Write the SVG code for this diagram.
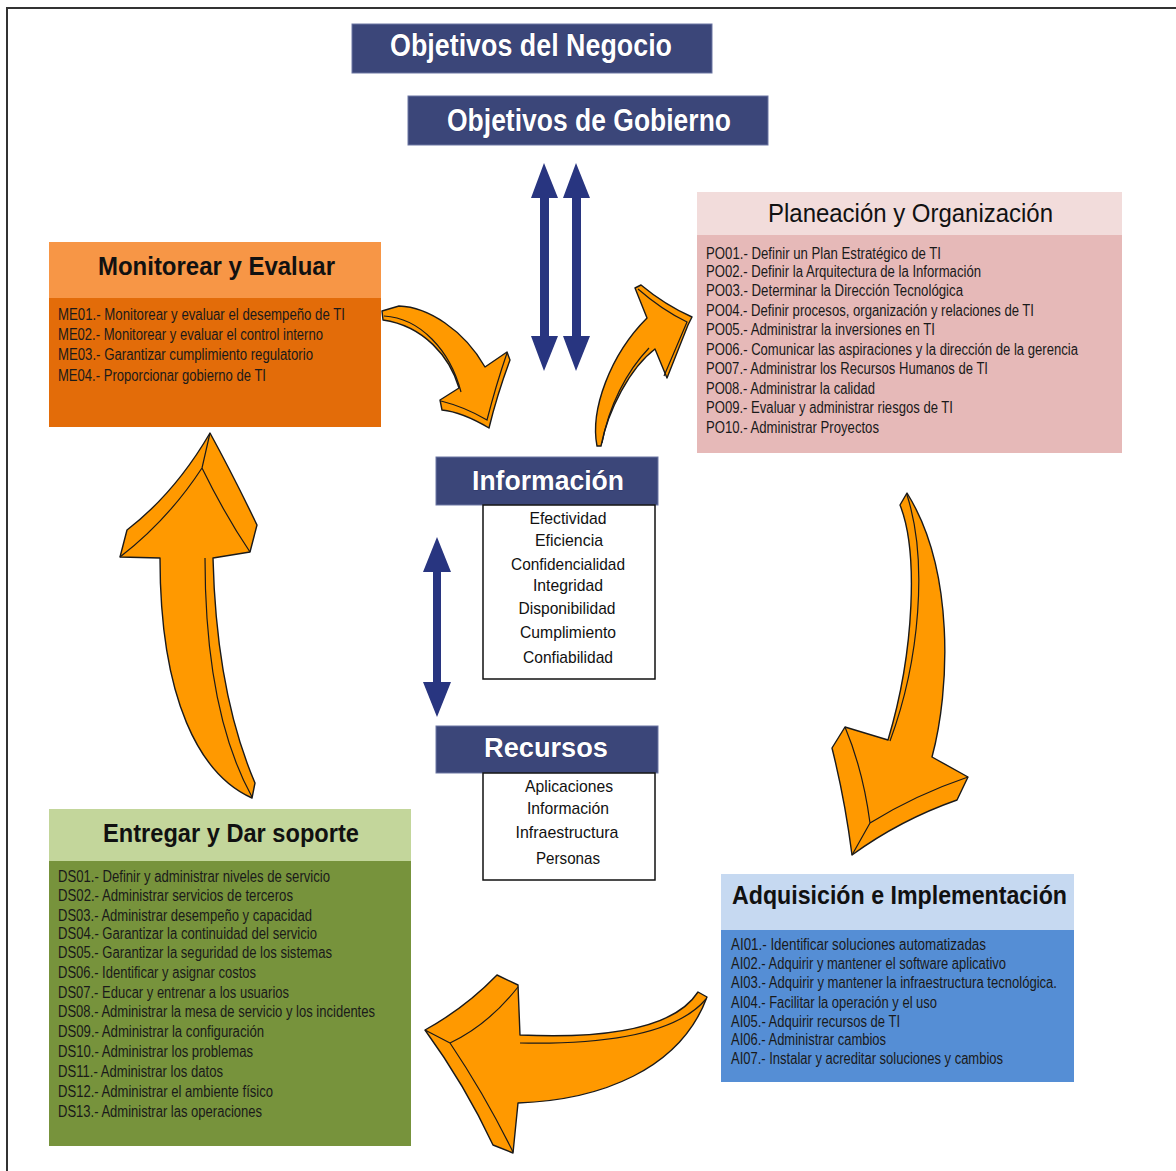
<svg xmlns="http://www.w3.org/2000/svg" width="1176" height="1171" viewBox="0 0 1176 1171">
<style>
.hdr{fill:#3b4679;stroke:#6c76a3;stroke-width:1}
.wt{font-family:"Liberation Sans",Arial,sans-serif;font-weight:bold;fill:#fff;stroke:#1c2450;stroke-width:0.6;paint-order:stroke}
.tt{font-family:"Liberation Sans",Arial,sans-serif;font-weight:bold;fill:#111;font-size:26px}
.it{font-family:"Liberation Sans",Arial,sans-serif;fill:#1a1a1a;font-size:16px}
.ct{font-family:"Liberation Sans",Arial,sans-serif;fill:#111;font-size:17px;text-anchor:middle}
.box{fill:#fff;stroke:#111;stroke-width:1.5}
.oa{fill:#ff9900;stroke:#1a1a1a;stroke-width:1.4;stroke-linejoin:round}
.ol{fill:none;stroke:#1a1a1a;stroke-width:1.2}
.ba{fill:#283580}
</style>
<rect width="1176" height="1171" fill="#fff"/>
<path d="M7,1171 V8 H1176" fill="none" stroke="#333" stroke-width="2"/>

<g id="objetivos-negocio">
<rect class="hdr" x="352" y="24" width="360" height="49"/>
<text class="wt" x="390" y="56" font-size="32" textLength="282" lengthAdjust="spacingAndGlyphs">Objetivos del Negocio</text>
</g>
<g id="objetivos-gobierno">
<rect class="hdr" x="408" y="96" width="360" height="49"/>
<text class="wt" x="447" y="131" font-size="32" textLength="284" lengthAdjust="spacingAndGlyphs">Objetivos de Gobierno</text>
</g>

<g id="monitorear">
<rect x="49" y="242" width="332" height="56" fill="#f79646"/>
<rect x="49" y="298" width="332" height="129" fill="#e36c09"/>
<text class="tt" x="98" y="275" font-size="28" textLength="237" lengthAdjust="spacingAndGlyphs">Monitorear y Evaluar</text>
<text class="it" x="58" y="320" textLength="287" lengthAdjust="spacingAndGlyphs">ME01.- Monitorear y evaluar  el desempeño de TI</text>
<text class="it" x="58" y="340" textLength="265" lengthAdjust="spacingAndGlyphs">ME02.- Monitorear y evaluar el control interno</text>
<text class="it" x="58" y="360" textLength="255" lengthAdjust="spacingAndGlyphs">ME03.- Garantizar cumplimiento regulatorio</text>
<text class="it" x="58" y="381" textLength="208" lengthAdjust="spacingAndGlyphs">ME04.- Proporcionar gobierno de TI</text>
</g>

<g id="planeacion">
<rect x="697" y="192" width="425" height="43" fill="#f2dcdb"/>
<rect x="697" y="235" width="425" height="218" fill="#e6b9b8"/>
<text class="tt" x="768" y="222" style="font-weight:normal" textLength="285" lengthAdjust="spacingAndGlyphs">Planeación y  Organización</text>
<text class="it" x="706" y="259" textLength="235" lengthAdjust="spacingAndGlyphs">PO01.- Definir un Plan Estratégico de TI</text>
<text class="it" x="706" y="277" textLength="275" lengthAdjust="spacingAndGlyphs">PO02.- Definir la Arquitectura de la Información</text>
<text class="it" x="706" y="296" textLength="257" lengthAdjust="spacingAndGlyphs">PO03.- Determinar la Dirección Tecnológica</text>
<text class="it" x="706" y="316" textLength="328" lengthAdjust="spacingAndGlyphs">PO04.- Definir procesos, organización y relaciones  de TI</text>
<text class="it" x="706" y="335" textLength="229" lengthAdjust="spacingAndGlyphs">PO05.- Administrar la inversiones en TI</text>
<text class="it" x="706" y="355" textLength="372" lengthAdjust="spacingAndGlyphs">PO06.- Comunicar las aspiraciones y la dirección de la gerencia</text>
<text class="it" x="706" y="374" textLength="282" lengthAdjust="spacingAndGlyphs">PO07.- Administrar los Recursos Humanos de TI</text>
<text class="it" x="706" y="394" textLength="169" lengthAdjust="spacingAndGlyphs">PO08.- Administrar la calidad</text>
<text class="it" x="706" y="413" textLength="247" lengthAdjust="spacingAndGlyphs">PO09.- Evaluar y administrar riesgos de TI</text>
<text class="it" x="706" y="433" textLength="173" lengthAdjust="spacingAndGlyphs">PO10.- Administrar Proyectos</text>
</g>

<g id="informacion">
<rect class="hdr" x="436" y="457" width="222" height="48"/>
<text class="wt" x="472" y="490" font-size="27" textLength="152" lengthAdjust="spacingAndGlyphs">Información</text>
<rect class="box" x="483" y="505" width="172" height="174"/>
<text class="ct" x="568" y="524" textLength="77" lengthAdjust="spacingAndGlyphs">Efectividad</text>
<text class="ct" x="569" y="546" textLength="68" lengthAdjust="spacingAndGlyphs">Eficiencia</text>
<text class="ct" x="568" y="570" textLength="114" lengthAdjust="spacingAndGlyphs">Confidencialidad</text>
<text class="ct" x="568" y="591" textLength="70" lengthAdjust="spacingAndGlyphs">Integridad</text>
<text class="ct" x="567" y="614" textLength="97" lengthAdjust="spacingAndGlyphs">Disponibilidad</text>
<text class="ct" x="568" y="638" textLength="96" lengthAdjust="spacingAndGlyphs">Cumplimiento</text>
<text class="ct" x="568" y="663" textLength="90" lengthAdjust="spacingAndGlyphs">Confiabilidad</text>
</g>

<g id="recursos">
<rect class="hdr" x="436" y="726" width="222" height="47"/>
<text class="wt" x="484" y="757" font-size="28" textLength="124" lengthAdjust="spacingAndGlyphs">Recursos</text>
<rect class="box" x="483" y="773" width="172" height="107"/>
<text class="ct" x="569" y="792" textLength="88" lengthAdjust="spacingAndGlyphs">Aplicaciones</text>
<text class="ct" x="568" y="814" textLength="82" lengthAdjust="spacingAndGlyphs">Información</text>
<text class="ct" x="567" y="838" textLength="103" lengthAdjust="spacingAndGlyphs">Infraestructura</text>
<text class="ct" x="568" y="864" textLength="64" lengthAdjust="spacingAndGlyphs">Personas</text>
</g>

<g id="entregar">
<rect x="49" y="809" width="362" height="52" fill="#c3d69b"/>
<rect x="49" y="861" width="362" height="285" fill="#77933c"/>
<text class="tt" x="103" y="842" textLength="256" lengthAdjust="spacingAndGlyphs">Entregar y Dar soporte</text>
<text class="it" x="58" y="882" textLength="272" lengthAdjust="spacingAndGlyphs">DS01.- Definir y administrar niveles de servicio</text>
<text class="it" x="58" y="901" textLength="235" lengthAdjust="spacingAndGlyphs">DS02.- Administrar servicios de terceros</text>
<text class="it" x="58" y="921" textLength="254" lengthAdjust="spacingAndGlyphs">DS03.- Administrar desempeño y capacidad</text>
<text class="it" x="58" y="939" textLength="259" lengthAdjust="spacingAndGlyphs">DS04.- Garantizar la continuidad  del servicio</text>
<text class="it" x="58" y="958" textLength="274" lengthAdjust="spacingAndGlyphs">DS05.- Garantizar la seguridad de los sistemas</text>
<text class="it" x="58" y="978" textLength="198" lengthAdjust="spacingAndGlyphs">DS06.- Identificar y asignar costos</text>
<text class="it" x="58" y="998" textLength="231" lengthAdjust="spacingAndGlyphs">DS07.- Educar y entrenar  a los usuarios</text>
<text class="it" x="58" y="1017" textLength="317" lengthAdjust="spacingAndGlyphs">DS08.- Administrar la mesa de servicio y los incidentes</text>
<text class="it" x="58" y="1037" textLength="206" lengthAdjust="spacingAndGlyphs">DS09.- Administrar la configuración</text>
<text class="it" x="58" y="1057" textLength="195" lengthAdjust="spacingAndGlyphs">DS10.- Administrar los problemas</text>
<text class="it" x="58" y="1077" textLength="165" lengthAdjust="spacingAndGlyphs">DS11.- Administrar los datos</text>
<text class="it" x="58" y="1097" textLength="215" lengthAdjust="spacingAndGlyphs">DS12.- Administrar el ambiente físico</text>
<text class="it" x="58" y="1117" textLength="204" lengthAdjust="spacingAndGlyphs">DS13.- Administrar las operaciones</text>
</g>

<g id="adquisicion">
<rect x="721" y="874" width="353" height="56" fill="#c6d9f1"/>
<rect x="721" y="930" width="353" height="152" fill="#558ed5"/>
<text class="tt" x="732" y="904" textLength="335" lengthAdjust="spacingAndGlyphs">Adquisición e Implementación</text>
<text class="it" x="731" y="950" textLength="255" lengthAdjust="spacingAndGlyphs">AI01.- Identificar soluciones automatizadas</text>
<text class="it" x="731" y="969" textLength="275" lengthAdjust="spacingAndGlyphs">AI02.- Adquirir y mantener el software aplicativo</text>
<text class="it" x="731" y="988" textLength="326" lengthAdjust="spacingAndGlyphs">AI03.- Adquirir y mantener la infraestructura tecnológica.</text>
<text class="it" x="731" y="1008" textLength="206" lengthAdjust="spacingAndGlyphs">AI04.- Facilitar la operación y el uso</text>
<text class="it" x="731" y="1027" textLength="169" lengthAdjust="spacingAndGlyphs">AI05.- Adquirir recursos de TI</text>
<text class="it" x="731" y="1045" textLength="155" lengthAdjust="spacingAndGlyphs">AI06.- Administrar cambios</text>
<text class="it" x="731" y="1064" textLength="272" lengthAdjust="spacingAndGlyphs">AI07.- Instalar  y acreditar soluciones y cambios</text>
</g>

<g id="connectors">
<path class="ba" d="M544,163 L558,198 L549,198 L549,336 L558,336 L544,371 L531,336 L540,336 L540,198 L531,198 Z"/>
<path class="ba" d="M576,163 L590,198 L581,198 L581,336 L590,336 L576,371 L563,336 L572,336 L572,198 L563,198 Z"/>
<path class="ba" d="M437,537 L451,572 L441,572 L441,682 L451,682 L437,717 L423,682 L433,682 L433,572 L423,572 Z"/>

<path class="oa" d="M382,311 L399,306 C428,307 464,330 485,367 L507,352 L510,360 Q497,395 489,428 Q462,412 442,410 L440,400 L459,388 C450,357 424,326 383,320 Z"/>
<path class="ol" d="M384,316 C420,318 450,350 461,392 M441,401 Q465,407 487,420 Q496,385 507,353"/>

<path class="oa" d="M597,446 C590,410 610,355 647,318 L635,288 L641,285 Q665,305 692,317 L688,325 L667,378 L655,349 C630,368 608,410 601,446 Z"/>
<path class="ol" d="M602,443 C609,406 626,372 649,348 M638,289 Q662,310 687,322 L664,376"/>

<path class="oa" d="M907,493 L900,505 C918,550 915,650 888,740 L845,727 L832,748 Q845,800 852,855 Q900,820 957,800 L968,777 L932,757 C950,690 955,570 907,493 Z"/>
<path class="ol" d="M907,495 C928,560 920,660 890,741 M845,727 Q863,770 870,823 Q915,795 968,777 M870,823 L852,855"/>

<path class="oa" d="M707,997 L698,992 C680,1020 630,1040 520,1035 L518,985 L497,975 Q465,1008 425,1030 Q465,1085 493,1145 L513,1153 L518,1103 C600,1100 680,1070 707,997 Z"/>
<path class="ol" d="M520,1043 C620,1045 680,1030 706,999 M518,987 Q488,1025 450,1043 Q485,1095 513,1152 M425,1030 L450,1043"/>

<path class="oa" d="M210,433 Q233,475 257,525 L250,552 L213,558 C215,640 228,720 255,783 L252,798 C200,775 160,700 160,558 L120,557 L127,530 Q175,493 210,433 Z"/>
<path class="ol" d="M210,433 L202,468 M120,557 Q168,520 202,468 Q225,515 250,552 M205,558 C205,650 218,735 252,797"/>
</g>
</svg>
